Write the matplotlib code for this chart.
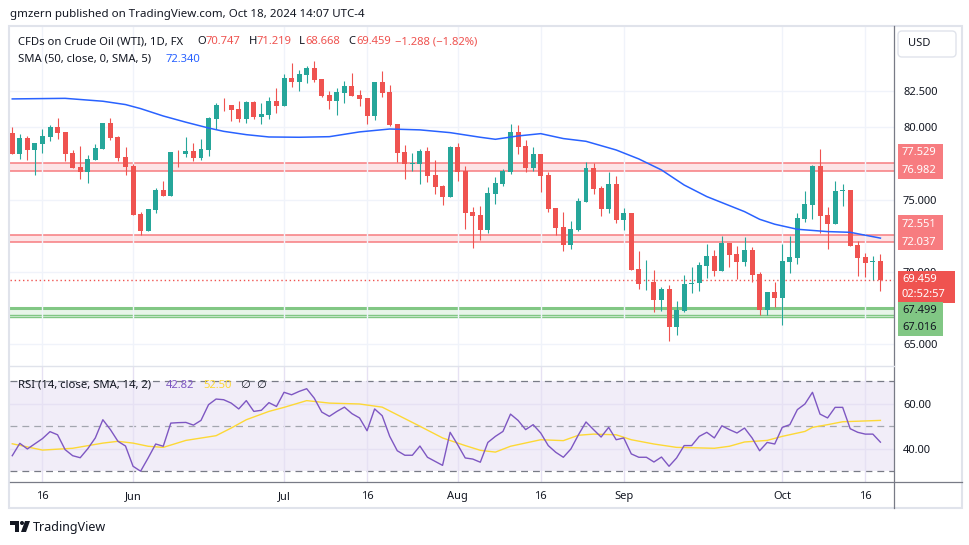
import matplotlib
matplotlib.use("Agg")
import matplotlib.pyplot as plt
import matplotlib.patches as mpatches
import pandas as pd

plt.rcParams['font.family'] = ['Noto Sans', 'DejaVu Sans']

# daily bars, CFDs on WTI crude
dates = pd.bdate_range('2024-05-10', '2024-10-18')

opens = [79.61, 78.18, 79.24, 78.46, 78.87, 79.33, 80.02, 79.68, 78.23, 77.26,
         76.94, 77.76, 78.53, 80.30, 79.33, 77.95, 77.33, 74.01, 72.86, 74.31,
         75.67, 75.28, 78.32, 78.18, 78.36, 77.90, 78.46, 80.60, 81.57, 81.52,
         81.24, 80.60, 81.75, 80.74, 80.87, 81.82, 81.50, 83.41, 83.13, 83.64,
         84.10, 83.34, 82.24, 81.84, 82.40, 82.86, 82.24, 82.03, 80.81, 83.13,
         82.44, 80.23, 78.30, 77.49, 77.49, 78.36, 76.71, 75.95, 75.21, 78.64,
         76.98, 74.15, 73.94, 72.93, 75.41, 76.11, 76.94, 79.68, 78.71, 77.21,
         78.16, 76.71, 74.42, 73.11, 71.89, 72.93, 74.86, 77.21, 75.81, 74.38,
         76.08, 73.62, 74.08, 70.21, 69.29, 69.33, 68.09, 68.83, 66.22, 67.33,
         69.17, 69.24, 70.44, 71.08, 70.09, 72.00, 71.24, 70.72, 71.50, 69.86,
         67.40, 68.60, 68.23, 70.72, 70.99, 73.69, 74.65, 77.33, 73.94, 73.34,
         75.62, 75.67, 71.86, 71.04, 70.72, 70.747]
highs = [80.02, 79.54, 79.38, 78.92, 79.86, 80.16, 80.64, 79.68, 78.43, 78.71,
         78.06, 78.85, 80.30, 80.64, 79.38, 78.64, 77.44, 74.15, 74.36, 75.81,
         76.29, 78.30, 78.41, 79.31, 78.92, 79.19, 80.69, 81.66, 82.03, 81.52,
         81.82, 81.80, 81.80, 81.68, 82.10, 82.72, 83.69, 84.42, 83.96, 84.24,
         84.58, 83.34, 82.51, 82.72, 83.20, 83.76, 82.58, 82.03, 83.13, 83.89,
         82.93, 80.23, 78.78, 78.23, 78.48, 78.64, 77.74, 75.99, 78.69, 78.92,
         77.30, 74.49, 74.56, 75.88, 76.57, 77.12, 80.23, 80.16, 79.12, 78.62,
         78.16, 76.89, 74.42, 74.15, 73.50, 75.09, 77.60, 77.53, 75.92, 76.89,
         76.64, 74.42, 74.08, 71.45, 70.83, 70.14, 68.94, 69.10, 68.00, 69.79,
         70.35, 70.69, 71.94, 71.50, 72.51, 72.00, 71.80, 72.42, 71.70, 70.00,
         68.64, 69.33, 71.92, 72.51, 74.06, 75.60, 77.37, 78.50, 74.52, 76.29,
         76.08, 75.67, 72.17, 71.31, 71.13, 71.219]
lows = [78.15, 77.81, 77.76, 76.71, 78.25, 79.08, 79.19, 77.70, 77.21, 76.45,
        76.18, 77.76, 78.53, 79.10, 77.70, 76.73, 73.96, 72.53, 72.86, 74.10,
        75.28, 75.28, 77.28, 77.97, 77.70, 77.76, 78.04, 79.88, 81.15, 80.44,
        80.37, 80.32, 80.58, 80.25, 80.60, 81.01, 81.50, 82.81, 82.51, 83.09,
        83.13, 82.12, 81.29, 80.87, 81.70, 82.19, 81.50, 80.25, 80.53, 82.12,
        80.12, 77.63, 76.45, 77.00, 76.11, 76.22, 75.41, 74.65, 75.21, 76.31,
        72.99, 71.68, 72.24, 72.67, 74.68, 75.92, 76.75, 78.18, 76.89, 77.00,
        75.55, 74.17, 72.58, 71.48, 71.61, 72.86, 74.86, 75.41, 73.89, 74.10,
        73.41, 72.93, 70.16, 68.85, 68.78, 67.24, 67.33, 65.25, 65.67, 67.26,
        68.53, 68.71, 69.61, 69.75, 70.09, 70.37, 69.52, 70.44, 69.29, 67.00,
        67.03, 67.58, 66.36, 69.91, 70.58, 73.48, 73.69, 72.72, 71.61, 73.34,
        74.59, 71.82, 69.75, 69.68, 69.47, 68.668]
closes = [78.18, 79.26, 78.46, 78.92, 79.40, 80.02, 79.63, 78.18, 77.21, 76.94,
          77.81, 78.57, 80.30, 79.29, 77.90, 77.28, 73.96, 72.86, 74.36, 75.67,
          75.28, 78.30, 78.27, 78.36, 77.90, 78.50, 80.64, 81.52, 81.52, 81.22,
          80.58, 81.75, 80.74, 80.92, 81.82, 81.50, 83.41, 83.13, 83.69, 84.10,
          83.27, 82.19, 81.84, 82.44, 82.86, 82.19, 81.98, 80.81, 83.13, 82.40,
          80.18, 78.25, 77.49, 77.53, 78.36, 76.66, 75.90, 75.21, 78.64, 76.94,
          74.10, 73.89, 72.93, 75.46, 76.15, 76.98, 79.68, 78.64, 77.21, 78.16,
          76.66, 74.38, 73.06, 71.89, 72.97, 74.91, 77.21, 75.76, 74.38, 76.08,
          73.62, 74.08, 70.16, 69.19, 69.33, 68.09, 68.83, 66.22, 67.37, 69.17,
          69.24, 70.48, 71.08, 70.09, 72.00, 71.20, 70.72, 71.50, 69.82, 67.40,
          68.60, 68.23, 70.76, 71.04, 73.73, 74.70, 77.33, 73.89, 73.34, 75.60,
          75.67, 71.82, 70.99, 70.65, 70.76, 69.459]

# SMA(50) at these bar numbers
sma_idx = [0, 7, 12, 15, 17, 20, 23, 26, 28, 31, 34, 38, 42, 46, 50, 54, 58, 62,
           64, 67, 70, 73, 76, 80, 83, 86, 89, 92, 97, 99, 101, 104, 108, 111, 115]
sma_vals = [81.96, 82.00, 81.80, 81.57, 81.29, 80.78, 80.35, 79.95, 79.72, 79.49,
            79.33, 79.31, 79.35, 79.68, 79.88, 79.82, 79.63, 79.31, 79.17, 79.40,
            79.56, 79.22, 79.03, 78.43, 77.81, 77.05, 76.01, 75.21, 74.17, 73.64,
            73.30, 72.95, 72.79, 72.74, 72.34]

rsi = [36.8, 42.3, 39.8, 42.1, 44.4, 47.5, 46.1, 39.5, 36.8, 35.9,
       39.9, 44.7, 52.8, 48.4, 43.2, 41.1, 32.1, 29.9, 35.8, 42.0,
       41.0, 51.3, 51.5, 51.6, 50.4, 52.5, 59.5, 62.0, 61.7, 60.2,
       57.6, 61.3, 56.5, 57.0, 60.4, 58.7, 65.0, 63.9, 65.4, 66.6,
       62.4, 56.2, 54.3, 56.5, 58.4, 55.5, 53.6, 47.9, 57.6, 54.6,
       45.4, 39.0, 37.0, 37.0, 41.1, 36.1, 34.3, 32.5, 47.2, 41.7,
       35.8, 35.3, 33.9, 42.7, 45.4, 47.6, 55.3, 52.5, 48.4, 50.6,
       46.9, 41.3, 38.3, 36.1, 39.8, 46.1, 51.8, 48.4, 45.1, 49.4,
       43.9, 44.7, 37.6, 36.1, 36.1, 34.0, 36.2, 32.1, 35.8, 41.3,
       41.3, 45.4, 47.2, 44.7, 50.1, 48.4, 46.9, 49.1, 44.7, 39.0,
       42.7, 42.0, 49.4, 50.6, 57.3, 59.8, 65.0, 55.3, 53.6, 58.3,
       58.3, 48.8, 47.2, 46.4, 46.4, 42.82]
rsi_ma_idx = [0, 4, 8, 12, 14, 16, 18, 20, 23, 27, 29, 31, 34, 36, 39, 42, 46, 49,
              51, 54, 57, 60, 62, 64, 66, 70, 73, 75, 77, 80, 82, 85, 88, 93, 95,
              97, 100, 102, 105, 106, 108, 110, 115]
rsi_ma_vals = [42.1, 39.3, 40.1, 42.4, 43.2, 42.4, 41.0, 40.5, 43.6, 45.7,
               49.1, 52.8, 56.5, 58.3, 61.3, 60.2, 59.8, 58.4, 55.0, 49.9,
               44.7, 41.3, 39.2, 38.4, 41.0, 43.9, 43.5, 45.9, 46.4, 46.1,
               43.9, 42.0, 40.5, 40.1, 41.0, 42.9, 43.6, 45.4, 47.6, 49.4,
               50.6, 51.9, 52.5]

resistance_zones = [(76.982, 77.529), (72.037, 72.551)]
support_zone = (67.016, 67.499)
support_low = 66.87

price_ticks = [65, 70, 75, 80, 82.5]
tick_dates = ['2024-05-16', '2024-06-03', '2024-07-01', '2024-07-16', '2024-08-01',
              '2024-08-16', '2024-09-02', '2024-10-01', '2024-10-16']
tick_labels = ['16', 'Jun', 'Jul', '16', 'Aug', '16', 'Sep', 'Oct', '16']

UP, DOWN = '#26a69a', '#ef5350'
TXT = '#131722'
GRID = '#f0f3fa'

W, H = 970, 545
fig = plt.figure(figsize=(W / 100, H / 100), dpi=100)
fig.patch.set_facecolor('white')


def box(x0, y0, x1, y1):
    return [x0 / W, 1 - y1 / H, (x1 - x0) / W, (y1 - y0) / H]


ax = fig.add_axes(box(10, 26, 894, 366))
rax = fig.add_axes(box(10, 366, 894, 482), sharex=ax)

x = list(range(len(dates)))
colors = [UP if c >= o else DOWN for o, c in zip(opens, closes)]
bottoms = [min(o, c) for o, c in zip(opens, closes)]
heights = [max(abs(c - o), 0.05) for o, c in zip(opens, closes)]

for lo, hi in resistance_zones:
    ax.axhspan(lo, hi, facecolor='#fde4e6', edgecolor='none', zorder=1)
    ax.axhline(lo, color='#f77c80', lw=1.1, zorder=1.5)
    ax.axhline(hi, color='#f77c80', lw=1.1, zorder=1.5)
ax.axhspan(support_low, support_zone[1], facecolor='#e8f5e9', edgecolor='none', zorder=1)
ax.axhline(support_zone[1], color='#81c784', lw=2.2, zorder=1.5)
ax.axhline(support_zone[0], color='#81c784', lw=1, zorder=1.5)
ax.axhline(support_low, color='#81c784', lw=1, zorder=1.5)

ax.axhline(closes[-1], color=DOWN, lw=1, linestyle=(0, (1, 2)), zorder=2)
ax.vlines(x, lows, highs, colors=colors, lw=0.8, zorder=3)
ax.bar(x, heights, bottom=bottoms, width=0.66, color=colors, linewidth=0, zorder=4)
ax.plot(sma_idx, sma_vals, color='#2962ff', lw=1.1, zorder=5)

ax.set_xlim(-0.3, 116.8)
ax.set_ylim(63.5, 87.0)
ax.set_yticks(price_ticks)
ax.set_yticklabels([f'{v:.3f}' for v in price_ticks])
tick_pos = [dates.get_loc(pd.Timestamp(d)) for d in tick_dates]
ax.set_xticks(tick_pos)
ax.grid(True, color=GRID, lw=1, zorder=0)
ax.yaxis.tick_right()
ax.tick_params(axis='y', length=0, pad=6.5, labelsize=8, labelcolor=TXT)
ax.tick_params(axis='x', length=0, labelbottom=False)

rax.axhspan(30, 70, facecolor='#7e57c2', alpha=0.1, edgecolor='none', zorder=0)
for lvl, col in [(70, '#787b86'), (50, '#a3a6af'), (30, '#787b86')]:
    rax.axhline(lvl, color=col, lw=0.9, linestyle=(0, (5.5, 4)), zorder=1)
rax.plot(rsi_ma_idx, rsi_ma_vals, color='#fdd835', lw=1, zorder=2)
rax.plot(x, rsi, color='#7e57c2', lw=1, zorder=3)
rax.set_ylim(25.1, 76.7)
rax.set_yticks([40, 60])
rax.set_yticklabels(['40.00', '60.00'])
rax.set_xticks(tick_pos)
rax.set_xticklabels(tick_labels)
rax.grid(True, color='#e6e1f3', lw=1, zorder=0)
rax.yaxis.tick_right()
rax.tick_params(axis='y', length=0, pad=6.5, labelsize=8, labelcolor=TXT)
rax.tick_params(axis='x', length=0, pad=6.5, labelsize=8, labelcolor=TXT)

for a in (ax, rax):
    for s in a.spines.values():
        s.set_visible(False)

# overlay in pixel coordinates for frame, legends and price tags
ov = fig.add_axes([0, 0, 1, 1], zorder=10)
ov.set_xlim(0, W)
ov.set_ylim(H, 0)
ov.axis('off')
ov.patch.set_alpha(0)

ov.add_patch(mpatches.Rectangle((9.5, 26), 953, 482, fill=False, edgecolor='#e0e3eb', lw=1.5))
ov.plot([894, 894], [26, 508], color='#787b86', lw=0.9)
ov.plot([10, 962], [482, 482], color='#787b86', lw=0.9)
ov.plot([10, 894], [366, 366], color='#e0e3eb', lw=1)

ov.text(10, 15, 'gmzern published on TradingView.com, Oct 18, 2024 14:07 UTC-4',
        fontsize=8.3, color=TXT, va='center')

legend1 = [(18, 'CFDs on Crude Oil (WTI), 1D, FX', TXT), (197, 'O', TXT), (206, '70.747', DOWN),
           (249, 'H', TXT), (257, '71.219', DOWN), (299, 'L', TXT), (305, '68.668', DOWN),
           (348, 'C', TXT), (356, '69.459', DOWN), (395, '\u22121.288 (\u22121.82%)', DOWN)]
for px, s, c in legend1:
    ov.text(px, 42, s, fontsize=8.1, color=c, va='center')
ov.text(18, 59, 'SMA (50, close, 0, SMA, 5)', fontsize=8.1, color=TXT, va='center')
ov.text(166, 59, f'{sma_vals[-1]:.3f}', fontsize=8.1, color='#2962ff', va='center')

legend2 = [(18, 'RSI (14, close, SMA, 14, 2)', TXT), (166, f'{rsi[-1]:.2f}', '#7e57c2'),
           (203, f'{rsi_ma_vals[-1]:.2f}', '#fdd835'), (240, '\u2205', TXT), (256, '\u2205', TXT)]
for px, s, c in legend2:
    ov.text(px, 385, s, fontsize=8.1, color=c, va='center')

# USD box
ov.add_patch(mpatches.FancyBboxPatch((898, 31), 58, 26, boxstyle='round,pad=0,rounding_size=4',
                                     facecolor='white', edgecolor='#e0e3eb', lw=1))
ov.text(908, 44, 'USD', fontsize=8, color=TXT, va='center')


def py(price):
    return H - ax.transData.transform((0, price))[1]


def tag(x1, rows, face, tcolor):
    top = rows[0][1] - 9
    bot = rows[-1][1] + 8
    ov.add_patch(mpatches.Rectangle((898, top), x1 - 898, bot - top, facecolor=face,
                                    edgecolor='none'))
    for s, yy in rows:
        ov.text(902, yy, s, fontsize=8, color=tcolor, va='center')


for lo, hi in resistance_zones:
    y_lo = py(lo)
    tag(943, [(f'{hi:.3f}', y_lo - 18), (f'{lo:.3f}', y_lo)], '#f77c80', 'white')
y_c = py(closes[-1])
tag(955, [(f'{closes[-1]:.3f}', y_c), ('02:52:57', y_c + 15)], DOWN, 'white')
tag(943, [(f'{support_zone[1]:.3f}', y_c + 31), (f'{support_zone[0]:.3f}', y_c + 48)],
    '#81c784', TXT)

# TradingView logo
ov.add_patch(mpatches.Rectangle((10, 521), 9, 4, facecolor=TXT, edgecolor='none'))
ov.add_patch(mpatches.Rectangle((15, 521), 4, 11, facecolor=TXT, edgecolor='none'))
ov.add_patch(mpatches.Circle((22, 523), 2, facecolor=TXT, edgecolor='none'))
ov.add_patch(mpatches.Polygon([(25, 521), (30, 521), (26, 532), (21, 532)], closed=True,
                              facecolor=TXT, edgecolor='none'))
ov.text(33, 527, 'TradingView', fontsize=9, color=TXT, va='center')

fig.savefig('out.png', dpi=100)
